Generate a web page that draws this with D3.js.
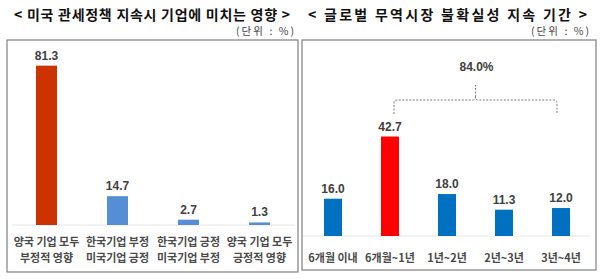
<!DOCTYPE html>
<html>
<head>
<meta charset="utf-8">
<script src="https://cdn.jsdelivr.net/npm/d3@7"></script>
<style>
  body { margin: 0; background: #fff; }
  svg { display: block; }
  .title { font-family: "Noto Sans CJK KR", sans-serif; font-weight: 700; font-size: 14px; fill: #111; }
  .unit { font-family: "Noto Sans CJK KR", sans-serif; font-size: 10.5px; fill: #444; }
  .val { font-family: "Liberation Sans Narrow", "Liberation Sans", sans-serif; font-weight: 700; font-size: 12px; fill: #404040; }
  .cat { font-family: "Noto Sans CJK KR", sans-serif; font-weight: 700; font-size: 11px; fill: #4a4a4a; }
</style>
</head>
<body>
<svg id="chart" width="600" height="279"></svg>
<script>
/* ============================
   Data
============================ */

const leftCats = [
  ["양국 기업 모두", "부정적 영향"],
  ["한국기업 부정", "미국기업 긍정"],
  ["한국기업 긍정", "미국기업 부정"],
  ["양국 기업 모두", "긍정적 영향"]
];
const leftValues = [81.3, 14.7, 2.7, 1.3];
const leftColors = ["#cc3300", "#558ed5", "#558ed5", "#558ed5"];

const rightCats = ["6개월 이내", "6개월~1년", "1년~2년", "2년~3년", "3년~4년"];
const rightValues = [16.0, 42.7, 18.0, 11.3, 12.0];
const rightColors = ["#0070c0", "#ff0000", "#0070c0", "#0070c0", "#0070c0"];

const bracketLabel = "84.0%";

/* ============================
   Hjälp
============================ */

const svg = d3.select("#chart");

function panel(opts) {
  const g = svg.append("g");

  // ram
  g.append("rect")
    .attr("x", opts.box[0]).attr("y", opts.box[1])
    .attr("width", opts.box[2]).attr("height", opts.box[3])
    .attr("fill", "none")
    .attr("stroke", "#7f7f7f")
    .attr("stroke-width", 1.2);

  g.append("text")
    .attr("class", "title")
    .attr("x", opts.titleX).attr("y", 20)
    .attr("textLength", opts.titleW)
    .attr("lengthAdjust", "spacing")
    .text(opts.title);

  g.append("text")
    .attr("class", "unit")
    .attr("x", opts.unitX - 58).attr("y", 35)
    .attr("textLength", 58)
    .attr("lengthAdjust", "spacing")
    .text("(단위 : %)");

  const x = d3.scaleBand()
    .domain(d3.range(opts.values.length))
    .range(opts.xRange)
    .padding(0);

  const y = d3.scaleLinear()
    .domain(opts.yDomain)
    .range(opts.yRange);

  // baslinje
  g.append("line")
    .attr("x1", opts.baseline[0]).attr("x2", opts.baseline[1])
    .attr("y1", y(0)).attr("y2", y(0))
    .attr("stroke", "#e6e6e6");

  const cx = i => x(i) + x.bandwidth() / 2;

  g.selectAll("rect.bar")
    .data(opts.values)
    .enter()
    .append("rect")
    .attr("class", "bar")
    .attr("x", (d, i) => cx(i) - opts.barW / 2)
    .attr("width", opts.barW)
    .attr("y", d => y(d))
    .attr("height", d => y(0) - y(d))
    .attr("fill", (d, i) => opts.colors[i]);

  g.selectAll("text.val")
    .data(opts.values)
    .enter()
    .append("text")
    .attr("class", "val")
    .attr("x", (d, i) => cx(i))
    .attr("y", d => y(d) - 6)
    .attr("text-anchor", "middle")
    .text(d => d.toFixed(1));

  const cats = g.selectAll("text.cat")
    .data(opts.cats)
    .enter()
    .append("text")
    .attr("class", "cat")
    .attr("text-anchor", "middle")
    .attr("x", (d, i) => cx(i))
    .attr("y", opts.catY);

  cats.each(function(d, i) {
    const lines = Array.isArray(d) ? d : [d];
    d3.select(this).selectAll("tspan")
      .data(lines)
      .enter()
      .append("tspan")
      .attr("x", cx(i))
      .attr("dy", (l, j) => j === 0 ? 0 : 16)
      .text(l => l);
  });

  return { g, x, y, cx };
}

/* ============================
   Vänster panel
============================ */

panel({
  box: [7, 40, 291, 232],
  title: "< 미국 관세정책 지속시 기업에 미치는 영향 >",
  titleX: 14, titleW: 276,
  unitX: 294,
  values: leftValues,
  cats: leftCats,
  colors: leftColors,
  xRange: [11, 295],
  yDomain: [0, 100],
  yRange: [225, 29],
  barW: 21,
  baseline: [12, 295],
  catY: 246
});

/* ============================
   Höger panel
============================ */

const right = panel({
  box: [302, 40, 294, 230],
  title: "< 글로벌 무역시장 불확실성 지속 기간 >",
  titleX: 308, titleW: 279,
  unitX: 589,
  values: rightValues,
  cats: rightCats,
  colors: rightColors,
  xRange: [304.5, 589.5],
  yDomain: [0, 50],
  yRange: [236, 119.5],
  barW: 18,
  baseline: [303, 590],
  catY: 262
});

// klammer över 6개월~1년 .. 3년~4년
const bx1 = right.cx(1) + 4;
const bx2 = right.cx(4) - 4;
const bTop = 100, bBot = 114, r = 3;
const mid = (bx1 + bx2) / 2;

right.g.append("path")
  .attr("d",
    `M${bx1},${bBot} L${bx1},${bTop + r} Q${bx1},${bTop} ${bx1 + r},${bTop} ` +
    `L${mid - r},${bTop} Q${mid},${bTop} ${mid},${bTop - r} ` +
    `Q${mid},${bTop} ${mid + r},${bTop} ` +
    `L${bx2 - r},${bTop} Q${bx2},${bTop} ${bx2},${bTop + r} L${bx2},${bBot}`)
  .attr("fill", "none")
  .attr("stroke", "#7f7f7f")
  .attr("stroke-width", 1)
  .attr("stroke-dasharray", "2,1.5");

right.g.append("line")
  .attr("x1", mid).attr("x2", mid)
  .attr("y1", bTop - r).attr("y2", 85)
  .attr("stroke", "#7f7f7f")
  .attr("stroke-dasharray", "2,1.5");

right.g.append("text")
  .attr("class", "val")
  .attr("x", mid + 1).attr("y", 71)
  .attr("text-anchor", "middle")
  .text(bracketLabel);
</script>
</body>
</html>
